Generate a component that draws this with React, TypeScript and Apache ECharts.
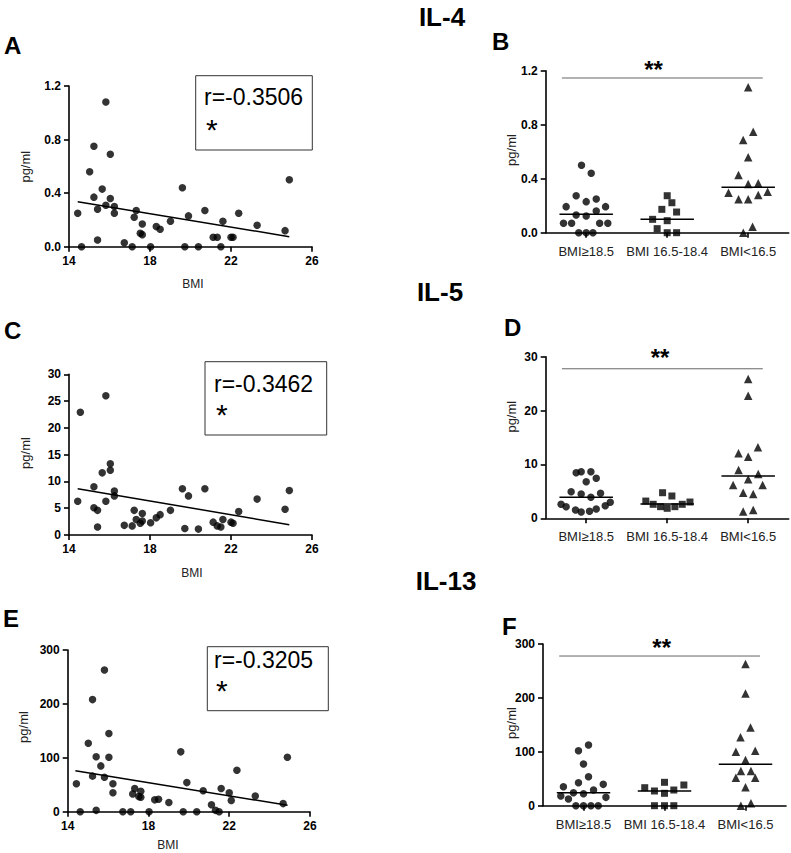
import React, { useEffect, useRef } from "react";
import * as echarts from "echarts";

// ---------- data ----------
const bmi = [14.43, 14.62, 15.02, 15.23, 15.23, 15.41, 15.41, 15.64, 15.82, 15.82, 16.04, 16.04, 16.24, 16.24, 16.73, 17.12, 17.22, 17.32, 17.52, 17.62, 17.62, 18.03, 18.31, 18.5, 19.01, 19.6, 19.72, 19.9, 20.39, 20.71, 21.12, 21.32, 21.5, 21.6, 22.0, 22.1, 22.38, 23.29, 24.67, 24.88];
const il4 = [0.25, 0, 0.56, 0.75, 0.37, 0.28, 0.05, 0.43, 1.08, 0.31, 0.69, 0.36, 0.3, 0.25, 0.03, 0, 0.22, 0.27, 0.1, 0.17, 0.09, 0, 0.15, 0.13, 0.19, 0.44, 0, 0.23, 0, 0.27, 0.07, 0.07, 0, 0.19, 0.07, 0.07, 0.25, 0.16, 0.12, 0.5];
const il13 = [52, 0, 127, 208, 66, 102, 2.5, 85, 263, 64, 145, 101, 52, 35, 0, 0, 33, 43, 28, 38, 27, 0, 22, 23, 17, 111, 0, 54, 0, 39, 13, 2.5, 0, 43, 35, 21, 77, 29, 15, 101];
const bmiC = [14.43, 14.56, 15.23, 15.23, 15.41, 15.41, 15.64, 15.82, 15.82, 16.04, 16.04, 16.24, 16.24, 16.73, 17.12, 17.22, 17.32, 17.52, 17.62, 17.62, 18.03, 18.31, 18.5, 19.01, 19.6, 19.72, 19.9, 20.39, 20.71, 21.12, 21.32, 21.5, 21.6, 22.0, 22.1, 22.38, 23.29, 24.67, 24.88];
const il5 = [6.3, 22.9, 9.0, 5.1, 4.6, 1.5, 11.6, 26.0, 6.3, 13.3, 12.1, 8.2, 7.3, 1.8, 1.7, 4.6, 2.9, 2.2, 2.6, 4.0, 2.3, 3.2, 3.8, 4.6, 8.65, 1.2, 7.3, 1.1, 8.65, 2.4, 1.7, 1.5, 2.9, 2.4, 2.2, 4.4, 6.7, 4.8, 8.3];

// regression line end points [bmi, value]
const fitIL4 = [[14.43, 0.336], [24.88, 0.075]];
const fitIL5 = [[14.43, 8.65], [24.88, 1.93]];
const fitIL13 = [[14.38, 76], [24.89, 11.8]];

const rIL4 = "r=-0.3506";
const rIL5 = "r=-0.3462";
const rIL13 = "r=-0.3205";

const groups = ["BMI≥18.5", "BMI 16.5-18.4", "BMI<16.5"];

// dot plots: values and horizontal jitter (in category widths)
const il4G1 = [0.5, 0.44, 0.274, 0.23, 0.25, 0.193, 0.193, 0.131, 0.124, 0.16, 0.07, 0.07, 0.07, 0.07, 0, 0, 0];
const il4G1Off = [-0.058, 0.062, -0.124, 0, 0.124, -0.248, 0.239, -0.124, 0, 0.124, -0.28, -0.18, 0.166, 0.267, -0.092, 0, 0.083];
const il4G2 = [0.274, 0.222, 0.173, 0.153, 0.099, 0.089, 0.03, 0, 0];
const il4G2Off = [0, 0.058, -0.066, 0.116, -0.18, 0, -0.124, 0, 0.116];
const il4G3 = [1.077, 0.748, 0.686, 0.558, 0.427, 0.36, 0.366, 0.296, 0.304, 0.247, 0.247, 0.279, 0.044, 0];
const il4G3Off = [0, 0.062, -0.062, 0, -0.12, 0, 0.124, -0.243, 0.24, -0.119, 0, 0.124, 0.054, -0.06];
const il4Medians = [0.136, 0.099, 0.336];

const il5G1 = [8.46, 8.65, 8.65, 7.42, 6.8, 4.94, 4.5, 3.9, 4.64, 2.6, 2.16, 1.54, 1.17, 1.3, 1.73, 2.34, 2.97];
const il5G1Off = [-0.124, -0.062, 0.058, 0.124, 0, -0.186, -0.062, 0.058, 0.177, -0.31, -0.248, -0.132, -0.062, 0.041, 0.124, 0.235, 0.297];
const il5G2 = [4.75, 4.14, 3.2, 2.6, 2.16, 1.86, 2.16, 2.6, 3.02];
const il5G2Off = [-0.057, 0.058, -0.264, -0.173, -0.082, 0, 0.095, 0.186, 0.281];
const il5G3 = [25.85, 22.76, 13.17, 12.06, 11.44, 8.96, 8.22, 7.23, 6.18, 6.18, 4.75, 4.5, 1.55, 1.24];
const il5G3Off = [0, 0, 0.12, -0.12, 0, -0.119, 0.124, 0, -0.186, 0.178, -0.062, 0.062, 0.062, -0.062];
const il5Medians = [3.9, 2.65, 7.85];

const il13G1 = [112.6, 102, 77.4, 53.8, 42.7, 35.3, 39.6, 29.1, 24.1, 22.3, 18, 15.5, 12.4, 0, 0, 0, 0];
const il13G1Off = [0.062, -0.062, 0, 0.062, -0.062, -0.248, 0.244, 0.124, -0.124, 0, -0.28, 0.277, -0.186, -0.094, 0, 0.092, 0.182];
const il13G2 = [43.4, 33.4, 38.4, 27.3, 29.1, 23, 0, 0, 0];
const il13G2Off = [0, -0.244, 0.239, -0.124, 0.115, 0, -0.124, 0, 0.115];
const il13G3 = [262.8, 208, 145, 127, 100, 102, 84.8, 64.4, 64.4, 52, 52, 34.1, 4.4, 0];
const il13G3Off = [0, 0, 0.062, -0.062, -0.119, 0.12, 0, -0.057, 0.067, -0.119, 0.12, 0, 0.067, -0.057];
const il13Medians = [24.1, 27.3, 76.8];

// significance bar: [from, to] in category units, and level
const sigSpan = [-0.3, 2.18];
const sigIL4 = 1.146;
const sigIL5 = 27.76;
const sigIL13 = 277.7;

// ---------- styling ----------
const FONT = '"Liberation Sans", Arial, Helvetica, sans-serif';
const INK = "#000";

const axisLine = { show: true, onZero: false, lineStyle: { color: INK, width: 1.6 } };
const axisTick = { show: true, length: 5, inside: false, lineStyle: { color: INK, width: 1.6 } };

export default function App() {
  const ref = useRef<HTMLDivElement>(null);

  useEffect(() => {
    if (!ref.current) return;
    const chart = echarts.init(ref.current, undefined, { renderer: "svg" });

    const grids: any[] = [
      { left: 69, top: 86, width: 243, height: 160.7 },
      { left: 545.7, top: 70.7, width: 243, height: 162 },
      { left: 69, top: 374.3, width: 243, height: 160.7 },
      { left: 545.7, top: 356.7, width: 243, height: 161.6 },
      { left: 67.7, top: 650, width: 242.3, height: 161.7 },
      { left: 543, top: 644, width: 243, height: 161.7 },
    ].map((g) => ({ ...g, containLabel: false, outerBoundsMode: "none", show: false }));

    const xAxes: any[] = [];
    const yAxes: any[] = [];
    const series: any[] = [];

    const yAxis = (gi: number, max: number, interval: number, dec: number) => ({
      type: "value",
      gridIndex: gi,
      min: 0,
      max,
      interval,
      axisLine,
      axisTick,
      splitLine: { show: false },
      axisLabel: {
        color: INK,
        fontFamily: FONT,
        fontWeight: "bold",
        fontSize: 12,
        margin: 8,
        formatter: (v: number) => v.toFixed(dec),
      },
    });

    const scatterPanel = (gi: number, xs: number[], ys: number[], fit: number[][], max: number, interval: number, dec: number) => {
      const xi = xAxes.length;
      xAxes.push({
        type: "value",
        gridIndex: gi,
        min: 14,
        max: 26,
        interval: 4,
        axisLine,
        axisTick,
        splitLine: { show: false },
        axisLabel: { color: INK, fontFamily: FONT, fontWeight: "bold", fontSize: 12, margin: 8 },
      });
      const yi = yAxes.length;
      yAxes.push(yAxis(gi, max, interval, dec));
      series.push({
        type: "line",
        xAxisIndex: xi,
        yAxisIndex: yi,
        data: fit,
        symbol: "none",
        lineStyle: { color: INK, width: 1.5 },
        z: 2,
      });
      series.push({
        type: "scatter",
        xAxisIndex: xi,
        yAxisIndex: yi,
        data: xs.map((x, i) => [x, ys[i]]),
        symbol: "circle",
        symbolSize: 7.5,
        itemStyle: { color: INK },
        z: 3,
      });
    };

    const dotPanel = (gi: number, vals: number[][], offs: number[][], medians: number[], sig: number, max: number, interval: number, dec: number) => {
      xAxes.push({
        type: "category",
        gridIndex: gi,
        data: groups,
        boundaryGap: true,
        axisLine,
        axisTick: { ...axisTick, alignWithLabel: true },
        splitLine: { show: false },
        axisLabel: { color: "#222", fontFamily: FONT, fontSize: 13, margin: 12, interval: 0 },
      });
      const hx = xAxes.length;
      xAxes.push({ type: "value", gridIndex: gi, min: -0.5, max: 2.5, show: false, splitLine: { show: false } });
      const yi = yAxes.length;
      yAxes.push(yAxis(gi, max, interval, dec));
      const symbols = ["circle", "rect", "triangle"];
      const sizes = [7.5, 7, 8.5];
      vals.forEach((vs, g) => {
        series.push({
          type: "scatter",
          xAxisIndex: hx,
          yAxisIndex: yi,
          data: vs.map((v, i) => [g + offs[g][i], v]),
          symbol: symbols[g],
          symbolSize: sizes[g],
          itemStyle: { color: INK },
          z: 3,
        });
        series.push({
          type: "line",
          xAxisIndex: hx,
          yAxisIndex: yi,
          data: [[g - 0.33, medians[g]], [g + 0.33, medians[g]]],
          symbol: "none",
          lineStyle: { color: INK, width: 1.5 },
          z: 2,
        });
      });
      series.push({
        type: "line",
        xAxisIndex: hx,
        yAxisIndex: yi,
        data: [[sigSpan[0], sig], [sigSpan[1], sig]],
        symbol: "none",
        lineStyle: { color: "#666", width: 1 },
        z: 2,
      });
    };

    scatterPanel(0, bmi, il4, fitIL4, 1.2, 0.4, 1);
    dotPanel(1, [il4G1, il4G2, il4G3], [il4G1Off, il4G2Off, il4G3Off], il4Medians, sigIL4, 1.2, 0.4, 1);
    scatterPanel(2, bmiC, il5, fitIL5, 30, 5, 0);
    dotPanel(3, [il5G1, il5G2, il5G3], [il5G1Off, il5G2Off, il5G3Off], il5Medians, sigIL5, 30, 10, 0);
    scatterPanel(4, bmi, il13, fitIL13, 300, 100, 0);
    dotPanel(5, [il13G1, il13G2, il13G3], [il13G1Off, il13G2Off, il13G3Off], il13Medians, sigIL13, 300, 100, 0);

    const txt = (text: string, x: number, y: number, size: number, opts: any = {}) => ({
      type: "text",
      x,
      y,
      rotation: opts.rotation || 0,
      style: {
        text,
        fill: opts.fill || INK,
        font: `${opts.bold ? "bold " : ""}${size}px ${FONT}`,
        align: opts.align || "center",
        verticalAlign: "middle",
      },
    });
    const box = (x1: number, y1: number, x2: number, y2: number) => ({
      type: "rect",
      shape: { x: x1, y: y1, width: x2 - x1, height: y2 - y1 },
      style: { fill: "none", stroke: "#333", lineWidth: 1 },
    });

    const graphic: any[] = [
      txt("IL-4", 442, 17, 26, { bold: true }),
      txt("IL-5", 440, 292, 26, { bold: true }),
      txt("IL-13", 446, 581, 26, { bold: true }),
      txt("A", 4, 45, 24, { bold: true, align: "left" }),
      txt("B", 492, 41, 24, { bold: true, align: "left" }),
      txt("C", 4, 330, 24, { bold: true, align: "left" }),
      txt("D", 504, 327, 24, { bold: true, align: "left" }),
      txt("E", 3, 618, 24, { bold: true, align: "left" }),
      txt("F", 502, 626, 24, { bold: true, align: "left" }),
      box(195.7, 75.7, 312.3, 150),
      txt(rIL4, 204, 96.5, 23, { align: "left" }),
      txt("*", 206, 129, 30, { align: "left" }),
      box(205, 361.7, 326.7, 435),
      txt(rIL5, 214, 383.5, 23, { align: "left" }),
      txt("*", 216, 414, 30, { align: "left" }),
      box(207.3, 646.7, 328.3, 710.7),
      txt(rIL13, 214, 659.5, 23, { align: "left" }),
      txt("*", 216, 690, 30, { align: "left" }),
      txt("**", 653.5, 69, 24, { bold: true }),
      txt("**", 660, 357.5, 24, { bold: true }),
      txt("**", 661.7, 647.5, 24, { bold: true }),
      txt("BMI", 193, 284, 12, { fill: "#222" }),
      txt("BMI", 192, 573, 12, { fill: "#222" }),
      txt("BMI", 168, 845, 12, { fill: "#222" }),
      txt("pg/ml", 25, 166.7, 13, { rotation: Math.PI / 2, fill: "#222" }),
      txt("pg/ml", 25, 453, 13, { rotation: Math.PI / 2, fill: "#222" }),
      txt("pg/ml", 23, 727, 13, { rotation: Math.PI / 2, fill: "#222" }),
      txt("pg/ml", 511.7, 150, 13, { rotation: Math.PI / 2, fill: "#222" }),
      txt("pg/ml", 511.7, 416.7, 13, { rotation: Math.PI / 2, fill: "#222" }),
      txt("pg/ml", 511.7, 723, 13, { rotation: Math.PI / 2, fill: "#222" }),
    ];

    chart.setOption({
      animation: false,
      backgroundColor: "#fff",
      grid: grids,
      xAxis: xAxes,
      yAxis: yAxes,
      series,
      graphic,
    });

    return () => chart.dispose();
  }, []);

  return (
    <div
      ref={ref}
      style={{ position: "absolute", left: 0, top: 0, width: 791, height: 853, background: "#fff" }}
    />
  );
}
